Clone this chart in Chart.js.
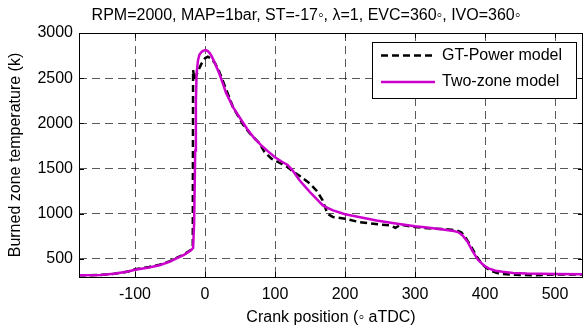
<!DOCTYPE html>
<html><head><meta charset="utf-8">
<script src="https://cdn.jsdelivr.net/npm/chart.js@4.4.0/dist/chart.umd.min.js"></script>
<style>html,body{margin:0;padding:0;background:#fff;}canvas{display:block;}</style>
</head><body>
<div style="width:584px;height:331px;"><canvas id="c" width="584" height="331"></canvas></div>
<script>
const chartTitle = "RPM=2000, MAP=1bar, ST=-17\u25E6, \u03BB=1, EVC=360\u25E6, IVO=360\u25E6";
const xAxisTitle = "Crank position (\u25E6 aTDC)";
const yAxisTitle = "Burned zone temperature (k)";
const xTicks = [-100, 0, 100, 200, 300, 400, 500];
const yTicks = [500, 1000, 1500, 2000, 2500, 3000];
const seriesNames = ["GT-Power model", "Two-zone model"];

const gtCrank = [-180,-150,-130,-110,-100,-80,-65,-50,-40,-30,-20,-17.5,-17,-15,-10,-5,0,4,8,14,20,25,30,40,54,65,78,85,95,105,112,118,125,135,150,160,168,175,183,200,220,250,265,272,280,290,300,326,345,360,366,372,380,388,395,402,410,420,440,470,500,540];
const gtTemp  = [318,322,335,360,385,410,435,475,515,550,600,620,2590,2480,2580,2660,2720,2737,2720,2670,2580,2480,2380,2180,1990,1880,1777,1684,1610,1570,1540,1517,1470,1420,1333,1250,1148,1000,963,945,908,880,870,845,880,865,852,834,828,815,795,740,640,530,450,400,365,338,325,320,328,328];

const tzCrank = [-180,-150,-130,-110,-100,-80,-65,-50,-40,-30,-20,-17,-15.5,-14,-13,-12,-10,-8,-5,-2,1,4,7,10,15,20,25,30,40,50,60,70,80,90,100,110,118,125,135,150,160,168,175,183,200,220,245,270,300,320,340,355,362,368,375,382,390,398,405,415,425,440,460,500,540];
const tzTemp  = [318,322,335,360,380,405,430,470,510,545,595,620,900,1700,2250,2550,2700,2760,2790,2805,2812,2800,2775,2735,2650,2560,2450,2340,2180,2060,1940,1840,1760,1690,1625,1575,1540,1480,1370,1240,1160,1095,1065,1037,995,965,926,895,862,845,825,810,795,760,690,590,490,430,395,370,358,345,338,332,330];

const FONT = '"Liberation Sans", Arial, sans-serif';

const toPts = (xs, ys) => xs.map((x, i) => ({x: x, y: ys[i]}));

const framePlugin = {
  id: 'frame',
  afterDatasetsDraw(chart) {
    const ctx = chart.ctx, a = chart.chartArea;
    const xs = chart.scales.x, ys = chart.scales.y;
    ctx.save();
    ctx.strokeStyle = '#000';
    ctx.lineWidth = 1;
    ctx.beginPath();
    xTicks.forEach(v => {
      const p = Math.round(xs.getPixelForValue(v)) + 0.5;
      ctx.moveTo(p, a.bottom); ctx.lineTo(p, a.bottom - 5);
      ctx.moveTo(p, a.top); ctx.lineTo(p, a.top + 5);
    });
    yTicks.forEach(v => {
      const p = Math.round(ys.getPixelForValue(v)) + 0.5;
      ctx.moveTo(a.left, p); ctx.lineTo(a.left + 5, p);
      ctx.moveTo(a.right, p); ctx.lineTo(a.right - 5, p);
    });
    ctx.stroke();
    ctx.strokeRect(Math.round(a.left) + 0.5, Math.round(a.top) + 0.5, Math.round(a.right - a.left) - 1, Math.round(a.bottom - a.top));
    // title
    ctx.fillStyle = '#000';
    ctx.font = '16px ' + FONT;
    ctx.textAlign = 'center';
    ctx.textBaseline = 'middle';
    ctx.fillText(chartTitle, 306, 16);
    // legend
    const lx = 372, ly = 42, lw = 204, lh = 56;
    ctx.fillStyle = '#fff';
    ctx.fillRect(lx, ly, lw, lh);
    ctx.strokeRect(lx + 0.5, ly + 0.5, lw, lh);
    const ds = chart.data.datasets;
    const rows = [55.5, 82];
    ds.forEach((d, i) => {
      ctx.save();
      ctx.strokeStyle = d.borderColor;
      ctx.lineWidth = d.borderWidth;
      ctx.setLineDash(d.borderDash || []);
      ctx.beginPath();
      ctx.moveTo(381, rows[i]); ctx.lineTo(435, rows[i]);
      ctx.stroke();
      ctx.restore();
      ctx.fillStyle = '#000';
      ctx.textAlign = 'left';
      ctx.textBaseline = 'middle';
      ctx.fillText(d.label, 442, rows[i]);
    });
    ctx.restore();
  }
};

new Chart(document.getElementById('c'), {
  type: 'line',
  data: {
    datasets: [
      { label: seriesNames[0], data: toPts(gtCrank, gtTemp), borderColor: '#000000', borderWidth: 2.5, borderDash: [7, 4], pointRadius: 0, fill: false, tension: 0, order: 1 },
      { label: seriesNames[1], data: toPts(tzCrank, tzTemp), borderColor: '#CC00CC', borderWidth: 2.5, pointRadius: 0, fill: false, tension: 0, order: 0 }
    ]
  },
  options: {
    responsive: false,
    animation: false,
    devicePixelRatio: 1,
    layout: { padding: { top: 33, right: 1, left: 0, bottom: 0 } },
    plugins: { legend: { display: false }, title: { display: false }, tooltip: { enabled: false } },
    scales: {
      x: {
        type: 'linear', min: -180, max: 540,
        afterBuildTicks(s) { s.ticks = xTicks.map(v => ({value: v})); },
        afterFit(s) { s.height = 54; },
        grid: { color: 'rgba(0,0,0,0.65)', lineWidth: 1, drawTicks: false },
        border: { display: false, dash: [8, 5] },
        ticks: { color: '#000', font: { family: FONT, size: 16 }, padding: 8, maxRotation: 0, autoSkip: false, callback: v => String(v) },
        title: { display: true, text: xAxisTitle, color: '#000', font: { family: FONT, size: 16 }, padding: { top: 0, bottom: 4 } }
      },
      y: {
        type: 'linear', min: 300, max: 3000,
        afterBuildTicks(s) { s.ticks = yTicks.map(v => ({value: v})); },
        afterFit(s) { s.width = 79; },
        grid: { color: 'rgba(0,0,0,0.65)', lineWidth: 1, drawTicks: false },
        border: { display: false, dash: [8, 5] },
        ticks: { color: '#000', font: { family: FONT, size: 16 }, padding: 6, autoSkip: false, callback: v => String(v) },
        title: { display: true, text: yAxisTitle, color: '#000', font: { family: FONT, size: 16 }, padding: { top: 6, bottom: 0 } }
      }
    }
  },
  plugins: [framePlugin]
});
</script>
</body></html>
